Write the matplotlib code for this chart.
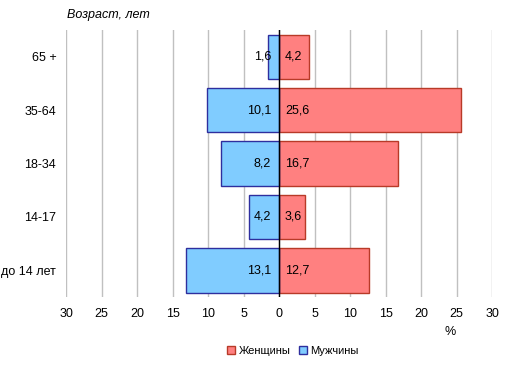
import matplotlib
matplotlib.use("Agg")
from matplotlib import pyplot as plt
from matplotlib.patches import Patch
import numpy as np

plt.rcParams['font.family'] = ['Liberation Sans', 'DejaVu Sans']

# age groups, bottom to top
ages = ['до 14 лет', '14-17', '18-34', '35-64', '65 +']
women = [12.7, 3.6, 16.7, 25.6, 4.2]
men = [13.1, 4.2, 8.2, 10.1, 1.6]
ticks = [-30, -25, -20, -15, -10, -5, 0, 5, 10, 15, 20, 25, 30]

women_color = '#FF8080'
women_edge = '#B83A28'
men_color = '#80CCFF'
men_edge = '#2E2E9E'

fig = plt.figure(figsize=(5.17, 3.70), dpi=100)
ax = fig.add_axes([0.1277, 0.197, 0.824, 0.722])

y = np.arange(len(ages))
ax.barh(y, women, height=0.83, color=women_color, edgecolor=women_edge, linewidth=1, zorder=3)
ax.barh(y, [-m for m in men], height=0.83, color=men_color, edgecolor=men_edge, linewidth=1, zorder=3)

for yi, w, m in zip(y, women, men):
    ax.text(0.85, yi, f'{w}'.replace('.', ','), ha='left', va='center', fontsize=9, zorder=4)
    ax.text(-1.1, yi, f'{m}'.replace('.', ','), ha='right', va='center', fontsize=9, zorder=4)

ax.set_xlim(-30, 30)
ax.set_ylim(-0.5, len(ages) - 0.5)
ax.set_xticks(ticks)
ax.set_xticklabels([str(abs(t)) for t in ticks], fontsize=9)
ax.set_yticks(y)
ax.set_yticklabels(ages, fontsize=9)
ax.tick_params(axis='y', length=0, pad=7)
ax.tick_params(axis='x', length=0, pad=8)
ax.grid(axis='x', color='#C0C0C0', linewidth=1, zorder=0)
ax.axvline(0, color='black', linewidth=1, zorder=5)
for s in ax.spines.values():
    s.set_visible(False)

fig.text(0.13, 0.96, 'Возраст, лет', fontsize=9, style='italic', ha='left', va='center')
fig.text(0.870, 0.102, '%', fontsize=9, ha='center', va='center')

handles = [Patch(facecolor=women_color, edgecolor=women_edge, label='Женщины'),
           Patch(facecolor=men_color, edgecolor=men_edge, label='Мужчины')]
fig.legend(handles=handles, loc='center', bbox_to_anchor=(0.567, 0.052), ncol=2, frameon=False,
           fontsize=8, handlelength=0.7, handleheight=0.7, handletextpad=0.3, columnspacing=0.8)

plt.savefig('out.png', dpi=100)
